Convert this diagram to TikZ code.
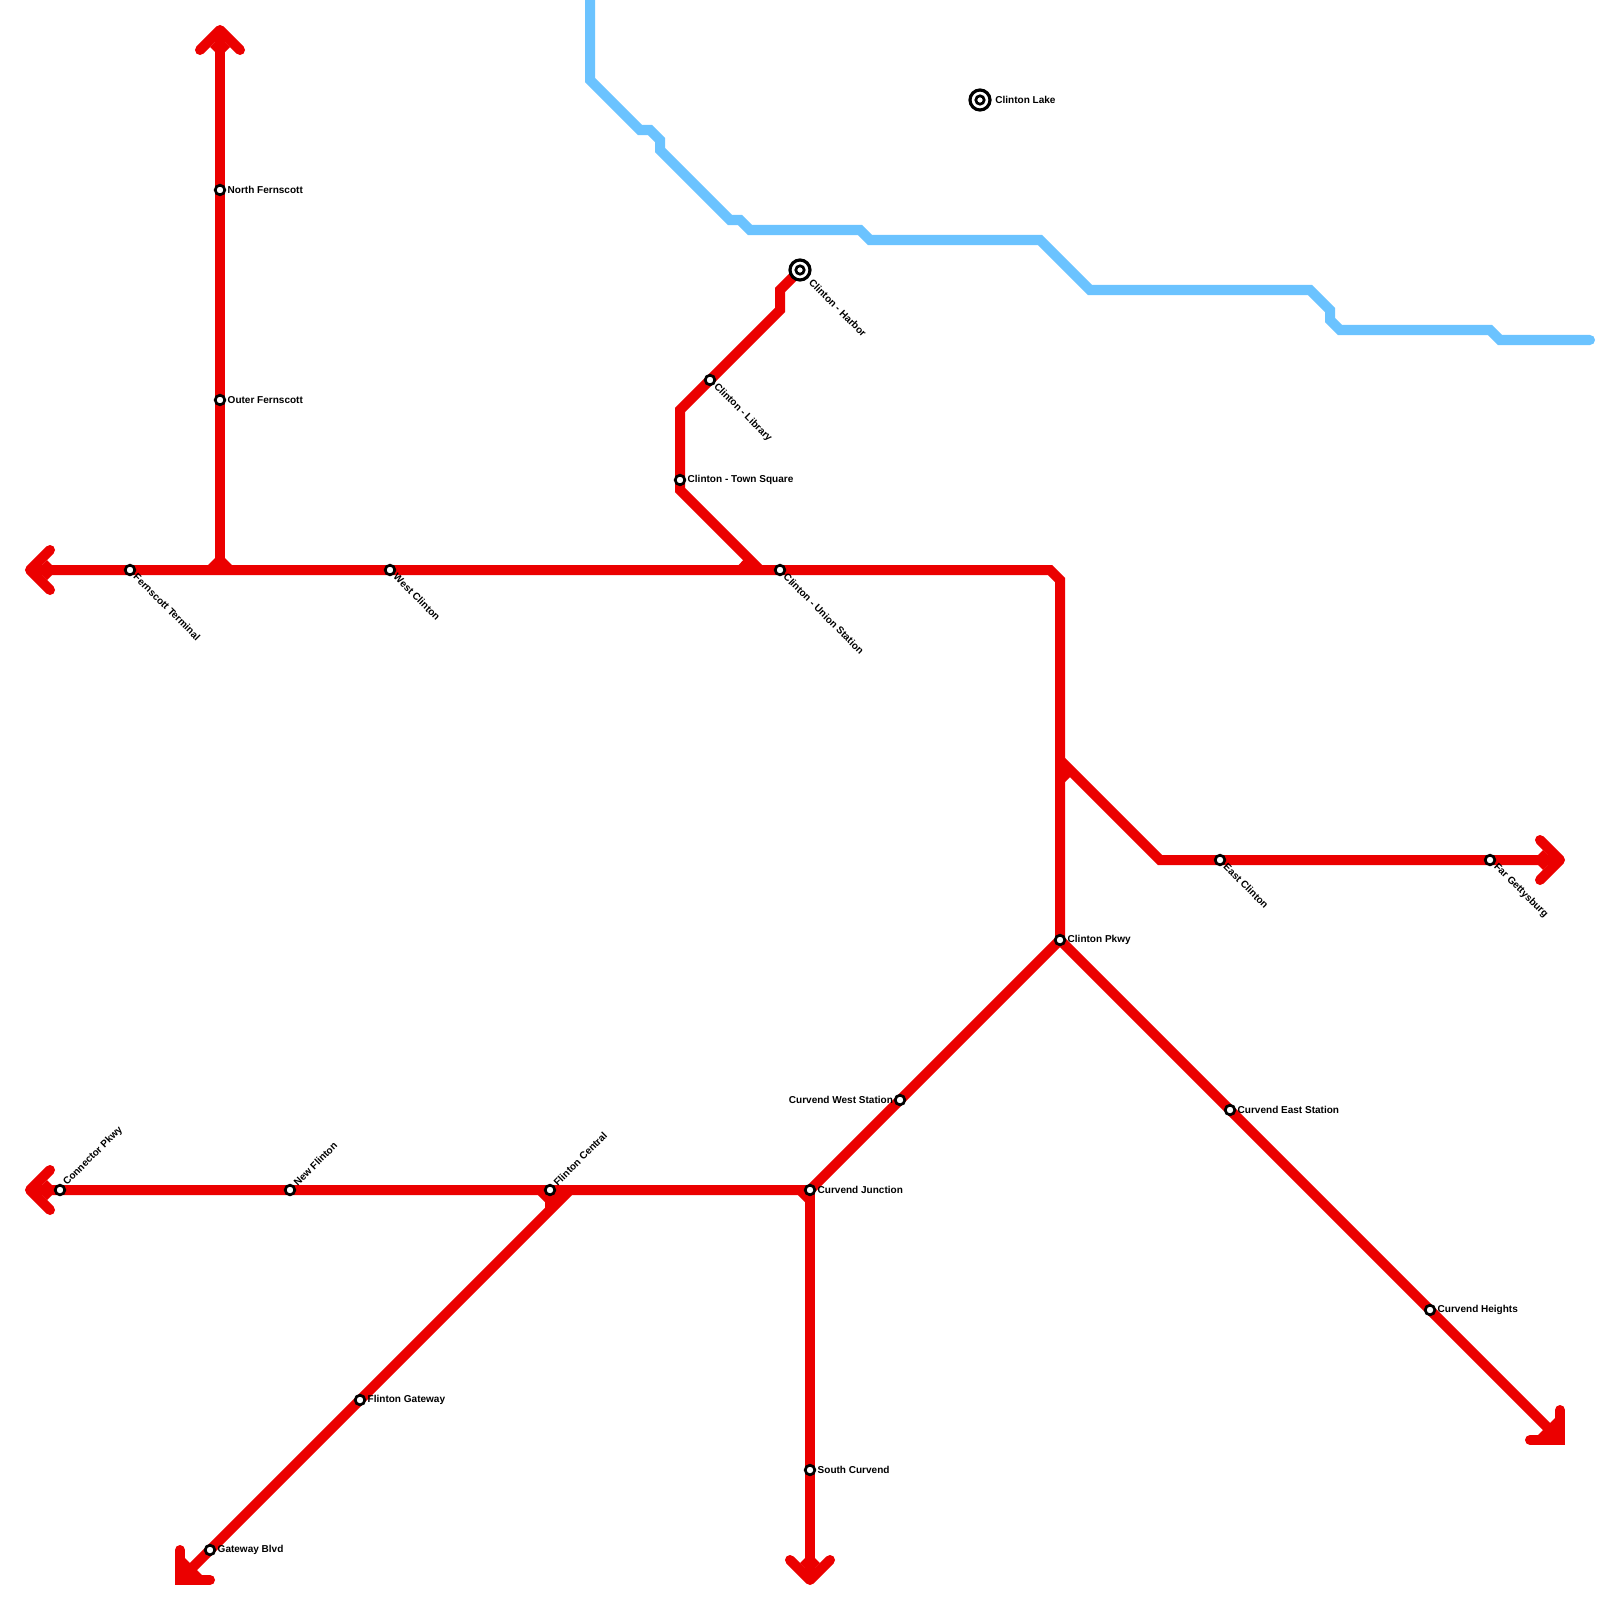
\documentclass[tikz,border=0pt]{standalone}
\usepackage{fontspec}
\setmainfont{Liberation Sans}
\usetikzlibrary{backgrounds}
\definecolor{metrored}{HTML}{EB0000}
\definecolor{riverblue}{HTML}{6BC3FF}

\begin{document}
\begin{tikzpicture}[x=0.01cm, y=-0.01cm,
    redline/.style={line width=0.1cm, draw=metrored},
    tipline/.style={redline, line cap=round, line join=round},
    cornerline/.style={redline, line cap=round},
    blueline/.style={line width=0.1cm, draw=riverblue, line cap=round},
    flare/.style={fill=metrored},
    stn/.style={circle, draw=black, fill=white, line width=0.027cm, minimum size=0.096cm, inner sep=0pt, outer sep=0pt},
    hub/.style={circle, draw=black, fill=white, line width=0.032cm, minimum size=0.2cm, inner sep=0pt, outer sep=0pt},
    hubin/.style={stn, line width=0.027cm, minimum size=0.084cm},
    lab/.style={font=\fontsize{2.85}{3.4}\selectfont\bfseries, text=black, inner sep=0.025cm, xshift=-0.003cm, yshift=0.003cm}]
  \useasboundingbox (0,0) rectangle (1600,1600);

  % Stations
  \foreach \stn/\x/\y in {nfern/220/190, ofern/220/400, fterm/130/570, wclin/390/570,
      union/780/570, tsq/680/480, libr/710/380, cpkwy/1060/940, eclin/1220/860,
      fgett/1490/860, ceast/1230/1110, chts/1430/1310, cwest/900/1100, cjunc/810/1190,
      scurv/810/1470, fgate/360/1400, fcent/550/1190, nflin/290/1190, conn/60/1190,
      gate/210/1550} {
    \node[stn] (\stn) at (\x,\y) {};
  }
  % Interchanges
  \node[hub] (harbor) at (800,270) {};
  \node[hubin] (harbor-in) at (harbor) {};
  \node[hub] (lake) at (980,100) {};
  \node[hubin] (lake-in) at (lake) {};

  % Line ends
  \coordinate (tipn) at (220,30);
  \coordinate (tipw) at (30,570);
  \coordinate (tipe) at (1560,860);
  \coordinate (tipc) at (30,1190);
  \coordinate (tips) at (810,1580);
  \coordinate (tipse) at (1560,1440);
  \coordinate (tipsw) at (180,1580);
  \coordinate (eastbend) at (1060,770);

  % Labels
  \foreach \stn/\ang/\txt in {nfern/0/North Fernscott, ofern/0/Outer Fernscott, tsq/0/Clinton - Town Square,
      cpkwy/0/Clinton Pkwy, ceast/0/Curvend East Station, chts/0/Curvend Heights, cjunc/0/Curvend Junction,
      scurv/0/South Curvend, fgate/0/Flinton Gateway, gate/0/Gateway Blvd,
      fterm/-45/Fernscott Terminal, wclin/-45/West Clinton, union/-45/Clinton - Union Station,
      libr/-45/Clinton - Library, eclin/-45/East Clinton, fgett/-45/Far Gettysburg,
      conn/45/Connector Pkwy, nflin/45/New Flinton, fcent/45/Flinton Central} {
    \node[lab, rotate=\ang, anchor=west] (\stn-lab) at (\stn.\ang) {\txt};
  }
  \node[lab, inner sep=0.05cm, anchor=west] (lake-lab) at (lake.0) {Clinton Lake};
  \node[lab, inner sep=0.05cm, rotate=-45, anchor=west] (harbor-lab) at (harbor.-45) {Clinton - Harbor};
  \node[lab, anchor=east, xshift=0.012cm] (cwest-lab) at (cwest.180) {Curvend West Station};

  \begin{scope}[on background layer]
    % River
    \draw[blueline] (590,-10) -- (590,80) -- (640,130) -- (650,130) -- (660,140) -- (660,150)
      -- (730,220) -- (740,220) -- (750,230) -- (860,230) -- (870,240) -- (1040,240)
      -- (1090,290) -- (1310,290) -- (1330,310) -- (1330,320) -- (1340,330) -- (1490,330)
      -- (1500,340) -- (1590,340);
    % Main line
    \draw[redline] (tipw) -- (fterm.center) -- (wclin.center) -- (union.center) -- (1050,570)
      -- (1060,580) -- (eastbend) -- (cpkwy.center) -- (ceast.center) -- (chts.center) -- (tipse);
    \draw[redline] (tipn) -- (nfern.center) -- (ofern.center) -- (220,570);
    \draw[redline] (harbor.center) -- (780,290) -- (780,310) -- (libr.center) -- (680,410)
      -- (tsq.center) -- (680,490) -- (760,570);
    \draw[redline] (1060,760) -- (1160,860) -- (eclin.center) -- (fgett.center) -- (tipe);
    % Lower lines
    \draw[redline] (tipc) -- (conn.center) -- (nflin.center) -- (fcent.center) -- (cjunc.center)
      -- (cwest.center) -- (cpkwy.center);
    \draw[redline] (cjunc.center) -- (scurv.center) -- (tips);
    \draw[redline] (570,1190) -- (fgate.center) -- (gate.center) -- (tipsw);
    % Junction flares
    \fill[flare] (205,568) -- (217,556) -- (223,556) -- (235,568) -- cycle;
    \fill[flare] (736,568) -- (746,557) -- (760,568) -- cycle;
    \fill[flare] (1060,787) -- (1072,775) -- (1060,762) -- cycle;
    \fill[flare] (535,1192) -- (545,1202) -- (545,1215) -- (565,1192) -- cycle;
    \fill[flare] (795,1192) -- (805,1202) -- (810,1192) -- cycle;
    % Arrow heads
    \draw[tipline] ([shift={(-20,20)}]tipn) -- (tipn) -- ([shift={(20,20)}]tipn);
    \draw[tipline] ([shift={(20,-20)}]tipw) -- (tipw) -- ([shift={(20,20)}]tipw);
    \draw[tipline] ([shift={(-20,-20)}]tipe) -- (tipe) -- ([shift={(-20,20)}]tipe);
    \draw[tipline] ([shift={(20,-20)}]tipc) -- (tipc) -- ([shift={(20,20)}]tipc);
    \draw[tipline] ([shift={(-20,-20)}]tips) -- (tips) -- ([shift={(20,-20)}]tips);
    \draw[cornerline] ([shift={(0,-30)}]tipse) -- (tipse) -- ([shift={(-30,0)}]tipse);
    \draw[cornerline] ([shift={(0,-30)}]tipsw) -- (tipsw) -- ([shift={(30,0)}]tipsw);
    % Arrow head wedges
    \foreach \tip/\dx/\dy in {tipn/0/17, tipw/17/0, tipe/-17/0, tipc/17/0, tips/0/-17} {
      \fill[flare] ([shift={(\dx-10,\dy)}]\tip) -- ([shift={(\dx,\dy-10)}]\tip)
        -- ([shift={(\dx+10,\dy)}]\tip) -- ([shift={(\dx,\dy+10)}]\tip) -- cycle;
    }
    \fill[flare] (1555,1418) -- (1538,1435) -- (tipse) -- cycle;
    \fill[flare] (185,1558) -- (202,1575) -- (tipsw) -- cycle;
  \end{scope}
\end{tikzpicture}
\end{document}
